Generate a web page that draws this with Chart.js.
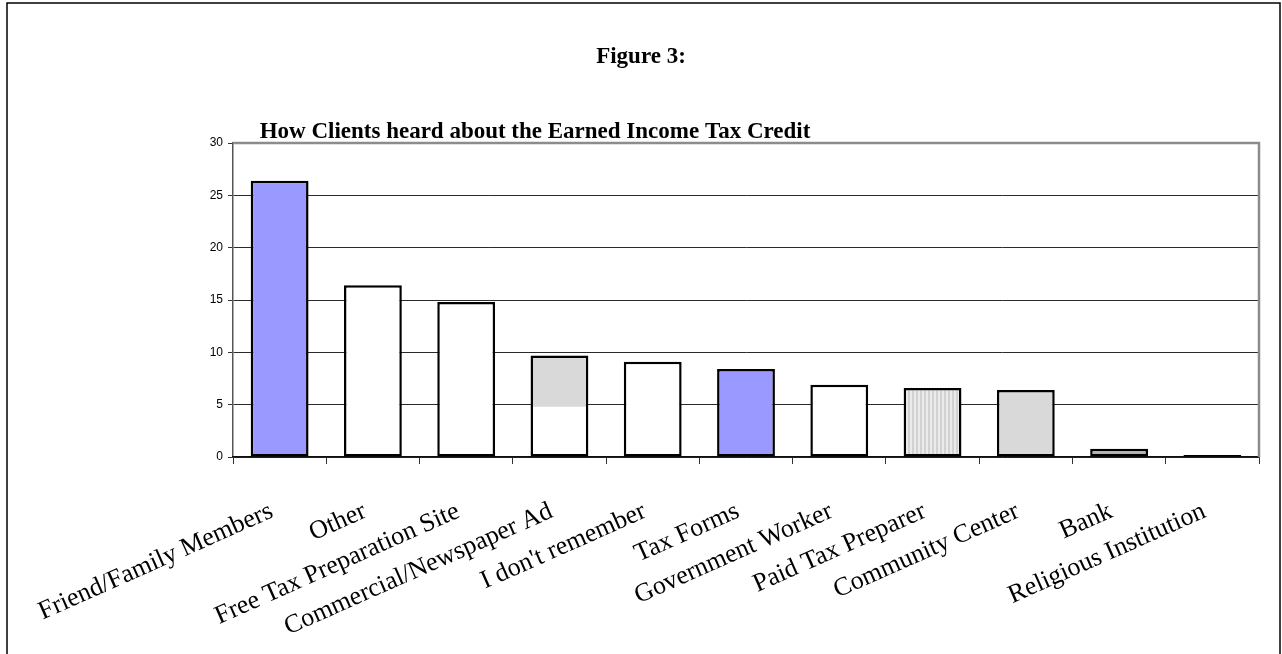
<!DOCTYPE html>
<html>
<head>
<meta charset="utf-8">
<title>Figure 3</title>
<script src="https://cdn.jsdelivr.net/npm/chart.js@4.4.1/dist/chart.umd.min.js"></script>
<style>
  html, body { margin: 0; padding: 0; background: #fff; }
  #wrap { width: 1282px; height: 654px; }
</style>
</head>
<body>
<div id="wrap"><canvas id="chart" width="1282" height="654"></canvas></div>
<script>
const sources = [
  'Friend/Family Members', 'Other', 'Free Tax Preparation Site', 'Commercial/Newspaper Ad',
  "I don't remember", 'Tax Forms', 'Government Worker', 'Paid Tax Preparer',
  'Community Center', 'Bank', 'Religious Institution'
];
const percents = [26.4, 16.4, 14.8, 9.7, 9.1, 8.4, 6.9, 6.6, 6.4, 0.8, 0.2];
const yMax = 30;
const yStep = 5;
const figureLabel = 'Figure 3:';
const chartTitle = 'How Clients heard about the Earned Income Tax Credit';
// the ad bar is only shaded above this value
const commercialShadeFrom = 4.8;

// fill styles, one per bar
const fillKinds = ['blue', 'white', 'white', 'split', 'white', 'blue', 'white', 'stripes', 'grey', 'darkgrey', 'black'];

function stripePattern() {
  const c = document.createElement('canvas');
  c.width = 4; c.height = 4;
  const g = c.getContext('2d');
  g.fillStyle = '#ebebeb'; g.fillRect(0, 0, 4, 4);
  g.fillStyle = '#d2d2d2'; g.fillRect(0, 0, 2, 4);
  return g.createPattern(c, 'repeat');
}
const stripes = stripePattern();

function barFill(ctx) {
  const kind = fillKinds[ctx.dataIndex];
  if (kind === 'blue') return '#9999ff';
  if (kind === 'stripes') return stripes;
  if (kind === 'grey') return '#d9d9d9';
  if (kind === 'darkgrey') return '#b2b2b2';
  if (kind === 'black') return '#000';
  if (kind === 'split') {
    const chart = ctx.chart;
    if (!chart.chartArea) return '#d9d9d9';
    const y = chart.scales.y.getPixelForValue(commercialShadeFrom);
    const g = chart.ctx.createLinearGradient(0, y - 0.5, 0, y + 0.5);
    g.addColorStop(0, '#d9d9d9');
    g.addColorStop(1, '#ffffff');
    return g;
  }
  return '#ffffff';
}

const decorations = {
  id: 'decorations',
  beforeDraw(chart) {
    const c = chart.ctx;
    c.save();
    c.fillStyle = '#fff';
    c.fillRect(0, 0, chart.width, chart.height);
    c.restore();
  },
  afterDraw(chart) {
    const c = chart.ctx;
    const a = chart.chartArea;
    c.save();
    // page frame
    c.strokeStyle = '#000';
    c.lineWidth = 1.5;
    c.beginPath();
    c.moveTo(7, chart.height);
    c.lineTo(7, 3);
    c.lineTo(1280, 3);
    c.lineTo(1280, chart.height);
    c.stroke();
    // grey plot frame, top and right
    c.strokeStyle = '#8c8c8c';
    c.lineWidth = 2.5;
    c.beginPath();
    c.moveTo(a.left, a.top);
    c.lineTo(a.right, a.top);
    c.lineTo(a.right, a.bottom);
    c.stroke();
    // headings
    c.fillStyle = '#000';
    c.textAlign = 'center';
    c.textBaseline = 'alphabetic';
    c.font = 'bold 23px "Liberation Serif"';
    c.fillText(figureLabel, 641, 63);
    c.font = 'bold 23px "Liberation Serif"';
    c.fillText(chartTitle, 535, 138);
    c.restore();
  }
};

new Chart(document.getElementById('chart'), {
  type: 'bar',
  data: {
    labels: sources,
    datasets: [{
      data: percents,
      backgroundColor: barFill,
      borderColor: '#000',
      borderWidth: 2.5,
      borderSkipped: false,
      categoryPercentage: 1,
      barPercentage: 0.62
    }]
  },
  options: {
    responsive: false,
    animation: false,
    devicePixelRatio: 1,
    layout: { padding: { top: 143, right: 23, left: 0, bottom: 0 } },
    plugins: { legend: { display: false }, tooltip: { enabled: false }, title: { display: false } },
    scales: {
      y: {
        min: 0,
        max: yMax,
        afterFit: (s) => { s.width = 233; },
        ticks: {
          stepSize: yStep,
          color: '#000',
          padding: 5,
          font: { family: '"Liberation Sans", Arial', size: 12 }
        },
        grid: {
          color: (ctx) => (ctx.tick && ctx.tick.value === yMax ? 'rgba(0,0,0,0)' : '#2b2b2b'),
          tickColor: '#333',
          lineWidth: 1,
          tickLength: 5
        },
        border: { display: true, color: '#555', width: 1.5 }
      },
      x: {
        afterFit: (s) => { s.height = 197; },
        ticks: {
          autoSkip: false,
          minRotation: 24,
          maxRotation: 24,
          padding: 32,
          labelOffset: -8,
          color: '#000',
          font: { family: '"Liberation Serif", "Times New Roman"', size: 26 }
        },
        grid: {
          offset: true,
          drawOnChartArea: false,
          color: '#333',
          tickLength: 7
        },
        border: { display: true, color: '#111', width: 1.5 }
      }
    }
  },
  plugins: [decorations]
});
</script>
</body>
</html>
